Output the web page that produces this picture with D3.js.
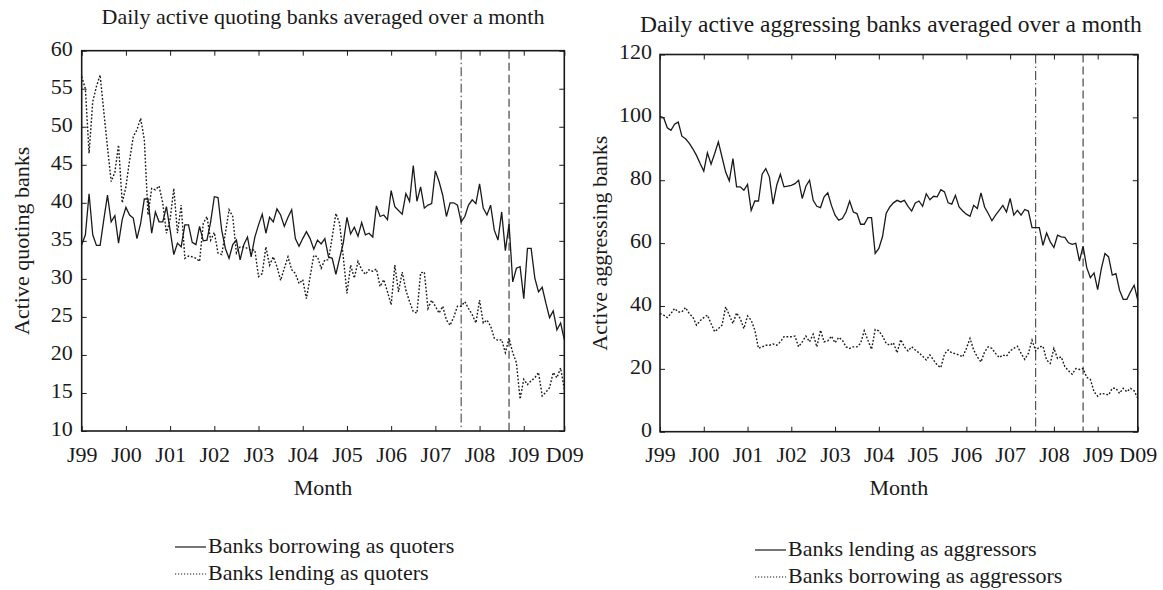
<!DOCTYPE html>
<html>
<head>
<meta charset="utf-8">
<script src="https://cdn.jsdelivr.net/npm/d3@7"></script>
<style>
  body { margin: 0; background: #fff; }
  svg text { font-family: "Liberation Serif", "DejaVu Serif", serif; fill: #1a1a1a; }
</style>
</head>
<body>
<svg id="chart" width="1163" height="590"></svg>
<script>
// month index 0 = Jan 1999 ... 131 = Dec 2009
var tickLabels = ["J99","J00","J01","J02","J03","J04","J05","J06","J07","J08","J09","D09"];
var tickMonths = [0,12,24,36,48,60,72,84,96,108,120,131];
var eventMonths = [103, 116]; // Aug 2007 (dash-dot), Sep 2008 (dashed)

var borrowQuoters = [34.5,35.8,41.2,35.8,34.4,34.4,37.8,41,37.5,38.3,34.7,37.8,39.4,38.4,38,35.3,37.3,40.5,40.5,36,
  38.8,37.5,37.5,39.5,36.4,33.2,34.7,34.2,37.1,37.1,34.8,34.5,36.9,35,35.1,37.5,40.8,40.7,36.4,34,
  32.7,34.5,35.1,32.5,34.5,35.5,32.9,35.5,37.1,38.5,36,38.1,37.5,39.2,38.4,36.9,38.1,39.1,35.3,34.3,
  35.3,36.2,35.3,33.9,35.1,34.6,35.3,32.9,32.7,30.6,32.7,34.7,38.1,35.9,36.8,35.6,37.4,35.8,36,35.5,
  39.6,38.2,38.4,37.8,41.6,39.5,39,38.5,41.2,40.2,44.9,40.2,42.1,39.3,39.7,39.9,44.2,42.8,41,38.2,
  40,40,39.7,37.5,38.2,39.7,40.4,39.9,42.5,39.3,38.4,39.7,36.4,35.1,38.8,33.7,37.2,29.6,31.4,31.6,
  27.4,34,34,30.1,28.3,28.9,26.8,24.9,25.8,23.3,24.2,22];
var lendQuoters = [56.6,55,46.5,53.3,55.3,56.8,52,47.3,42.8,44,47.6,40,42.1,45.6,48.7,49.6,51.1,48.3,38.4,41.9,
  41.7,42.2,40,36,37.8,41.9,36,39.7,32.7,33,32.9,32.7,32.3,37.3,38.2,35.1,36.1,33.4,33.2,36,
  39.1,38.2,33.4,34.2,34.2,34,33.8,33.8,30.3,30.7,34.2,31.8,32.9,31.6,29.8,31.4,32.9,31.2,30.7,29.4,
  29.9,27.4,30.3,33.1,32.9,31.4,32.5,32.5,35.5,38.6,37.3,32.9,28.1,31.8,30.1,32.3,31.2,30.6,31.2,31,
  31.3,29,29.9,28.3,26.6,31.8,28.3,30.9,28.5,27,25.7,25.5,30.8,30.9,26.1,27.2,26.4,25.5,26.4,24.6,
  23.9,25,26.4,26.4,27,26.1,25.3,24.2,27.2,24.2,24.6,23.8,22.2,21.9,22,20.3,22.2,20.3,19,14.2,
  16.8,16.1,16.6,17,17.7,14.6,15.1,15.7,17.7,17,18.3,15.5];
var lendAggressors = [100.3,99.9,96.7,95.9,97.8,98.5,94,93.2,91.8,90,87.9,85.3,82.9,88.7,85.1,88.5,92.2,87.4,82.6,79.8,
  86.9,77.9,77.9,76.8,78.7,70.4,73.4,73.4,81.9,83.7,81,72.4,78.4,81.9,77.9,78.1,78.4,78.9,80,74.2,
  78.1,80,73.6,71.7,71.3,74.7,76,72,68.9,67.3,67.8,69.9,73.4,69.9,69.4,66,66,68.1,68.1,56.7,
  58.3,62,69.4,71.5,72.8,73.6,73.1,73.6,71.7,70.2,72.8,73.4,71.7,75.7,73.8,74.9,74.7,77,76.3,72.8,
  72.4,75.2,71.5,70.2,69.2,68.5,72,71,76,71.5,69.4,67.1,68.9,70.4,72,69.9,74.2,68.9,70.4,68.9,
  70.7,70.2,64.9,64.9,64.9,59.3,63.2,60.4,58.6,62.5,62,61.8,60.1,59.6,59.9,54.3,59,52.2,49,50.5,
  45.2,51.9,56.7,55.6,49.8,50.3,45,42.1,42.1,44.5,46.6,41.8];
var borrowAggressors = [37.6,37.1,36.3,37.6,39.2,38.1,38.1,39.5,37.6,36.5,33.9,35.3,36.3,37.1,34.4,31.8,32.8,33.9,39.7,37.1,
  34.4,37.8,36,32.8,36.8,35.5,32.3,26.5,27,27.5,27.5,27.9,27.5,28.6,30.2,30.2,30.2,30.4,27,28.6,
  30.4,28.6,31,27,32.3,28.6,28.9,30.4,28.3,30,29.1,27,26.5,27,27,28.1,32.1,29.1,26.2,32.5,
  32.1,30.4,28.1,27.5,28.3,25.1,29.3,27,25.7,27,26,25.1,24,22.8,24.4,22.8,21.2,20.4,24.7,26,
  25.1,24.8,24.4,23.8,26.5,29.7,26,23.8,22.2,25.4,27,26.5,24.9,23.6,24.4,24,25.7,26.5,27.2,24.9,
  23,24.9,29.1,25.7,27,27.2,22.8,21.7,26.5,23.3,23.8,20.7,19.4,18.3,20.1,19.8,20.1,17.3,16.6,12.7,
  11.3,12.2,12,11.7,13.8,13.8,12.2,13.8,12.7,13.8,13,10.6];

var svg = d3.select("#chart");
var FONT = "Liberation Serif, DejaVu Serif, serif";
var FS = 22;

function drawPanel(o) {
  var x = d3.scaleLinear().domain([0, 131]).range([o.left, o.right]);
  var y = d3.scaleLinear().domain(o.yDomain).range([o.bottom, o.top]);
  var g = svg.append("g").attr("font-family", FONT);

  // frame
  g.append("rect")
    .attr("x", o.left).attr("y", o.top)
    .attr("width", o.right - o.left).attr("height", o.bottom - o.top)
    .attr("fill", "none").attr("stroke", "#1a1a1a").attr("stroke-width", 1.6);

  var xb = d3.axisBottom(x).tickValues(tickMonths)
    .tickFormat(function(d, i) { return tickLabels[i]; })
    .tickSizeInner(-5).tickSizeOuter(0).tickPadding(15);
  var gx = g.append("g").attr("transform", "translate(0," + o.bottom + ")").call(xb);
  var xt = d3.axisTop(x).tickValues(tickMonths).tickFormat("").tickSizeInner(-5).tickSizeOuter(0);
  var gxt = g.append("g").attr("transform", "translate(0," + o.top + ")").call(xt);

  var yl = d3.axisLeft(y).tickValues(o.yTicks).tickFormat(d3.format("d"))
    .tickSizeInner(-5).tickSizeOuter(0).tickPadding(o.yPad);
  var gy = g.append("g").attr("transform", "translate(" + o.left + ",0)").call(yl);
  var yr = d3.axisRight(y).tickValues(o.yTicks).tickFormat("").tickSizeInner(-5).tickSizeOuter(0);
  var gyr = g.append("g").attr("transform", "translate(" + o.right + ",0)").call(yr);

  [gx, gxt, gy, gyr].forEach(function(a) {
    a.attr("font-family", FONT).attr("font-size", FS);
    a.select(".domain").remove();
    a.selectAll(".tick line").attr("stroke", "#1a1a1a").attr("stroke-width", 1);
    a.selectAll("text").attr("font-family", FONT).attr("fill", "#1a1a1a");
  });
  gy.selectAll("text").attr("dy", "0.2em");

  // event lines
  g.append("line")
    .attr("x1", x(eventMonths[0])).attr("x2", x(eventMonths[0]))
    .attr("y1", o.top).attr("y2", o.bottom)
    .attr("stroke", "#333").attr("stroke-width", 1).attr("stroke-dasharray", "9,3,1.5,3");
  g.append("line")
    .attr("x1", x(eventMonths[1])).attr("x2", x(eventMonths[1]))
    .attr("y1", o.top).attr("y2", o.bottom)
    .attr("stroke", "#333").attr("stroke-width", 1.1).attr("stroke-dasharray", "8,4");

  var line = d3.line().x(function(d, i) { return x(i); }).y(function(d) { return y(d); });
  g.append("path").datum(o.solid).attr("d", line)
    .attr("fill", "none").attr("stroke", "#1a1a1a").attr("stroke-width", 1.3);
  g.append("path").datum(o.dotted).attr("d", line)
    .attr("fill", "none").attr("stroke", "#1a1a1a").attr("stroke-width", 1.4)
    .attr("stroke-dasharray", "1.8,1.8");

  // titles
  var cx = (o.left + o.right) / 2;
  g.append("text").attr("x", cx + o.titleDx).attr("y", o.titleY).attr("text-anchor", "middle")
    .attr("font-size", o.titleFS).text(o.title);
  g.append("text").attr("x", cx).attr("y", 495).attr("text-anchor", "middle")
    .attr("font-size", FS).text("Month");
  g.append("text")
    .attr("transform", "translate(" + o.ylabX + "," + ((o.top + o.bottom) / 2) + ") rotate(-90)")
    .attr("text-anchor", "middle").attr("font-size", FS).text(o.ylabel);

  // legend
  o.legend.forEach(function(L, i) {
    var ly = o.legY + i * 27;
    g.append("line").attr("x1", o.legX).attr("x2", o.legX + 31)
      .attr("y1", ly - 6).attr("y2", ly - 6)
      .attr("stroke", "#1a1a1a").attr("stroke-width", 1.2)
      .attr("stroke-dasharray", i === 0 ? null : "1.2,1.8");
    g.append("text").attr("x", o.legX + 33).attr("y", ly).attr("font-size", FS).text(L);
  });
}

drawPanel({
  left: 81.7, right: 564.3, top: 50.7, bottom: 431,
  yDomain: [10, 60], yTicks: [10,15,20,25,30,35,40,45,50,55,60], yPad: 9,
  solid: borrowQuoters, dotted: lendQuoters,
  title: "Daily active quoting banks averaged over a month", titleY: 24, titleFS: 22, titleDx: 0,
  ylabel: "Active quoting banks", ylabX: 29,
  legend: ["Banks borrowing as quoters", "Banks lending as quoters"], legX: 175, legY: 553
});

drawPanel({
  left: 660, right: 1137.8, top: 54.5, bottom: 431.7,
  yDomain: [0, 120], yTicks: [0,20,40,60,80,100,120], yPad: 8,
  solid: lendAggressors, dotted: borrowAggressors,
  title: "Daily active aggressing banks averaged over a month", titleY: 32, titleFS: 23.5, titleDx: -8,
  ylabel: "Active aggressing banks", ylabX: 607,
  legend: ["Banks lending as aggressors", "Banks borrowing as aggressors"], legX: 755, legY: 556
});
</script>
</body>
</html>
